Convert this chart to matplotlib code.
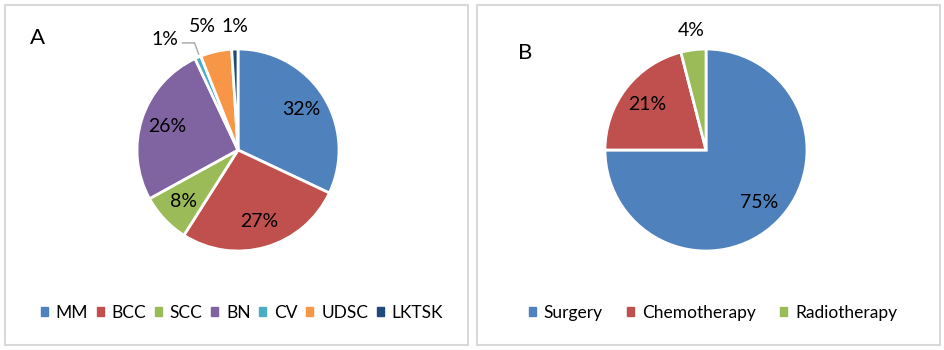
import matplotlib
matplotlib.use("Agg")
import matplotlib.pyplot as plt
from matplotlib.patches import Rectangle, Patch
import numpy as np

plt.rcParams['font.family'] = ['Lato', 'DejaVu Sans']

# panel A: lesion types
types = ["MM", "BCC", "SCC", "BN", "CV", "UDSC", "LKTSK"]
type_pct = [32, 27, 8, 26, 1, 5, 1]
type_colors = ["#4F81BD", "#C0504D", "#9BBB59", "#8064A2", "#4BACC6", "#F79646", "#1F497D"]

# panel B: treatments
treatments = ["Surgery", "Chemotherapy", "Radiotherapy"]
treat_pct = [75, 21, 4]
treat_colors = ["#4F81BD", "#C0504D", "#9BBB59"]

W, H = 945, 350
fig = plt.figure(figsize=(W / 100, H / 100), dpi=100)

# panel frames
for x0, x1 in [(5, 468), (477, 940)]:
    fig.patches.append(Rectangle((x0 / W, 5 / H), (x1 - x0) / W, 340 / H,
                                 transform=fig.transFigure, fill=False,
                                 edgecolor="#d9d9d9", linewidth=1.5))


def pie_axes(cx, cy, r):
    ax = fig.add_axes([(cx - r) / W, 1 - (cy + r) / H, 2 * r / W, 2 * r / H])
    ax.axis("off")
    return ax


def draw_pie(ax, vals, colors, outside):
    wedges, texts, autotexts = ax.pie(
        vals, colors=colors, startangle=90, counterclock=False,
        autopct=lambda p: "%d%%" % round(p), pctdistance=0.74,
        wedgeprops=dict(edgecolor="white", linewidth=2),
        textprops=dict(fontsize=14, color="black"), radius=1.0)
    for i, (x, y) in outside.items():
        autotexts[i].set_position((x, y))
    ax.set_xlim(-1, 1)
    ax.set_ylim(-1, 1)
    return wedges, autotexts


axA = pie_axes(238, 150, 101)
draw_pie(axA, type_pct, type_colors, {4: (-0.72, 1.09), 5: (-0.35, 1.22), 6: (-0.03, 1.22)})
axA.plot([-0.55, -0.43, -0.39], [1.06, 1.06, 0.95], color="#a6a6a6", lw=1, clip_on=False)
fig.text(30 / W, 1 - 38 / H, "A", fontsize=16, va="center", ha="left")

axB = pie_axes(706, 150, 101)
draw_pie(axB, treat_pct, treat_colors, {2: (-0.15, 1.18)})
fig.text(518 / W, 1 - 53 / H, "B", fontsize=16, va="center", ha="left")

legA = fig.legend([Patch(color=c) for c in type_colors], types, loc="center",
                  bbox_to_anchor=(242 / W, 1 - 313 / H), ncol=len(types), frameon=False,
                  fontsize=12.5, handlelength=0.4, handleheight=0.4, handletextpad=0.45,
                  columnspacing=0.5)
legB = fig.legend([Patch(color=c) for c in treat_colors], treatments, loc="center",
                  bbox_to_anchor=(713 / W, 1 - 313 / H), ncol=len(treatments), frameon=False,
                  fontsize=12.5, handlelength=0.4, handleheight=0.4, handletextpad=0.45,
                  columnspacing=1.4)

fig.savefig("out.png", dpi=100)
